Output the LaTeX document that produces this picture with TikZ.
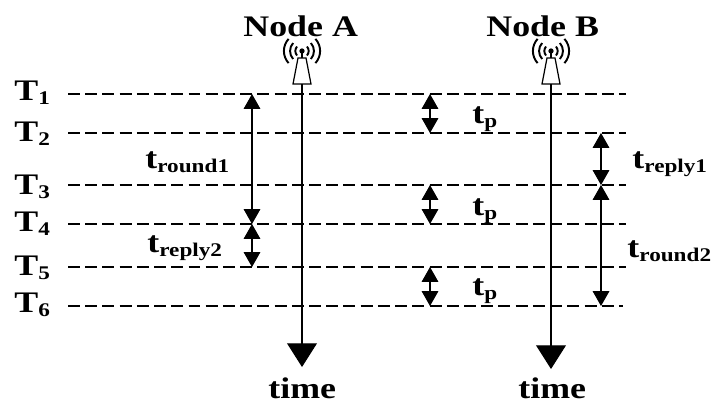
\documentclass[tikz,border=0pt]{standalone}
\usepackage{fontspec}
\setmainfont{Liberation Serif}
\usetikzlibrary{arrows.meta}

\tikzset{
    lbl/.style={anchor=base west, inner sep=0pt, transform shape, xscale=1.2, font=\bfseries\fontsize{17}{17}\selectfont},
    dashline/.style={line width=0.6pt, dash pattern=on 6.8pt off 3pt},
    span/.style={line width=0.6pt, {Triangle[width=9.5pt,length=8.5pt]}-{Triangle[width=9.5pt,length=8.5pt]}},
    timeline/.style={line width=0.6pt, -{Triangle[width=17pt,length=13.5pt]}},
}

\newcommand{\Tlab}[1]{T\raisebox{-0.3ex}{\fontsize{11}{11}\selectfont #1}}
\newcommand{\tlab}[1]{t\raisebox{-0.3ex}{\fontsize{11}{11}\selectfont #1}}

\begin{document}
\begin{tikzpicture}[x=0.02cm,y=-0.02cm]
    \useasboundingbox (0,0) rectangle (715,403);

    % Time levels
    \foreach \n/\y/\b/\e in {1/94/100/626,2/133/141/626,3/185/194/626,4/224/231/626,5/267/275/626,6/306/312/623} {
        \coordinate (L\n) at (68,\y);
        \coordinate (R\n) at (\e,\y);
        \draw[dashline] (L\n) -- (R\n);
        \node[lbl] (T\n) at (14,\b) {\Tlab{\n}};
    }

    % Antennas
    \foreach \x/\name in {302/A,551/B} {
        \coordinate (ant\name) at (\x,51);
        \draw[line width=0.7pt] (\x-9,84) -- (\x-4,58) -- (\x+4,58) -- (\x+9,84) -- cycle;
        \draw[line width=0.9pt] (ant\name) -- (\x,58);
        \fill (ant\name) circle (1.5pt);
        \foreach \r in {3.8,6.8,10.3} {
            \draw[line width=1.1pt] ([shift={(42:\r pt)}]ant\name) arc (42:-42:\r pt);
            \draw[line width=1.1pt] ([shift={(138:\r pt)}]ant\name) arc (138:222:\r pt);
        }
    }

    % Time axes
    \coordinate (topA) at (302,84);
    \coordinate (endA) at (302,367);
    \coordinate (topB) at (551,84);
    \coordinate (endB) at (551,369);
    \draw[timeline] (topA) -- (endA);
    \draw[timeline] (topB) -- (endB);

    % Intervals
    \coordinate (colA) at (252,0);
    \coordinate (colP) at (430,0);
    \coordinate (colB) at (601,0);
    \draw[span] (colA |- L1) -- (colA |- L4);
    \draw[span] (colA |- L4) -- (colA |- L5);
    \draw[span] (colP |- L1) -- (colP |- L2);
    \draw[span] (colP |- L3) -- (colP |- L4);
    \draw[span] (colP |- L5) -- (colP |- L6);
    \draw[span] (colB |- L2) -- (colB |- L3);
    \draw[span] (colB |- L3) -- (colB |- L6);

    \node[lbl] (nodeA) at (243,36) {Node A};
    \node[lbl] (nodeB) at (486,36) {Node B};
    \node[lbl] (round1) at (145,168) {\tlab{round1}};
    \node[lbl] (reply2) at (147,252) {\tlab{reply2}};
    \node[lbl] (tp1) at (472,123) {\tlab{p}};
    \node[lbl] (tp2) at (472,215) {\tlab{p}};
    \node[lbl] (tp3) at (472,295) {\tlab{p}};
    \node[lbl] (reply1) at (632,168) {\tlab{reply1}};
    \node[lbl] (round2) at (627,257) {\tlab{round2}};
    \node[lbl] (timeA) at (268,398) {time};
    \node[lbl] (timeB) at (518,398) {time};

\end{tikzpicture}
\end{document}
